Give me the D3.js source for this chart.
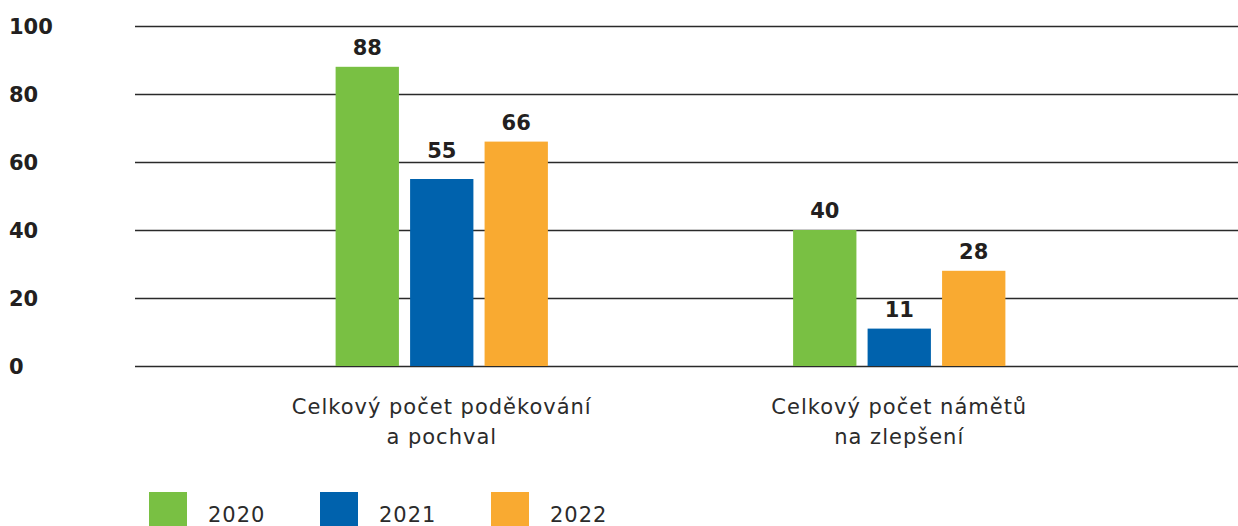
<!DOCTYPE html>
<html>
<head>
<meta charset="utf-8">
<script src="https://cdn.jsdelivr.net/npm/d3@7"></script>
<style>
  body { margin: 0; background: #fff; }
  svg { display: block; }
</style>
</head>
<body>
<div id="chart"></div>
<script>
const WIDTH = 1238;
const HEIGHT = 526;

// data
const categories = [
  ["Celkový počet poděkování", "a pochval"],
  ["Celkový počet námětů", "na zlepšení"]
];
const years = ["2020", "2021", "2022"];
const values2020 = [88, 40];
const values2021 = [55, 11];
const values2022 = [66, 28];
const yTicks = [0, 20, 40, 60, 80, 100];
const colors = ["#79c043", "#0062ad", "#f9aa31"];

const series = [values2020, values2021, values2022];

let svg = d3.select("#chart").append("svg")
  .attr("width", WIDTH)
  .attr("height", HEIGHT);

let y = d3.scaleLinear().domain([0, 100]).range([366, 26]);

let x0 = d3.scaleBand()
  .domain(d3.range(categories.length))
  .range([213, 1128])
  .paddingInner(0.536)
  .paddingOuter(0.268);

let x1 = d3.scaleBand()
  .domain(years)
  .range([0, x0.bandwidth()])
  .paddingInner(0.15);

/* gridlines */
svg.append("g")
  .selectAll("line")
  .data(yTicks)
  .join("line")
  .attr("x1", 135)
  .attr("x2", WIDTH)
  .attr("y1", d => Math.round(y(d)) + 0.5)
  .attr("y2", d => Math.round(y(d)) + 0.5)
  .attr("stroke", "#2a2a2a")
  .attr("stroke-width", 1.3);

/* y tick labels */
svg.append("g")
  .selectAll("text")
  .data(yTicks)
  .join("text")
  .attr("x", 9)
  .attr("y", d => y(d) + 8)
  .attr("font-family", "DejaVu Sans")
  .attr("font-weight", "bold")
  .attr("font-size", 21)
  .attr("fill", "#231f20")
  .text(d => d);

/* bars */
let groups = svg.append("g")
  .selectAll("g")
  .data(categories.map((c, i) => i))
  .join("g")
  .attr("transform", i => "translate(" + x0(i) + ",0)");

groups.selectAll("rect")
  .data(i => years.map((yr, j) => ({ year: yr, j: j, value: series[j][i] })))
  .join("rect")
  .attr("x", d => x1(d.year))
  .attr("width", x1.bandwidth())
  .attr("y", d => y(d.value))
  .attr("height", d => y(0) - y(d.value))
  .attr("fill", d => colors[d.j]);

// value labels, pushed above a gridline if they would sit on one
function labelBaseline(v) {
  let base = y(v) - 12;
  yTicks.forEach(t => {
    let gy = y(t);
    if (gy > base - 16 && gy < base + 1) base = gy - 4;
  });
  return base;
}

groups.selectAll("text")
  .data(i => years.map((yr, j) => ({ year: yr, j: j, value: series[j][i] })))
  .join("text")
  .attr("x", d => x1(d.year) + x1.bandwidth() / 2)
  .attr("y", d => labelBaseline(d.value))
  .attr("text-anchor", "middle")
  .attr("font-family", "DejaVu Sans")
  .attr("font-weight", "bold")
  .attr("font-size", 21)
  .attr("fill", "#231f20")
  .text(d => d.value);

/* category labels */
svg.append("g")
  .selectAll("text")
  .data(categories)
  .join("text")
  .attr("x", (d, i) => x0(i) + x0.bandwidth() / 2)
  .attr("y", 414)
  .attr("text-anchor", "middle")
  .attr("font-family", "DejaVu Sans")
  .attr("font-size", 21)
  .attr("letter-spacing", 1)
  .attr("fill", "#2b2b2b")
  .selectAll("tspan")
  .data(d => d)
  .join("tspan")
  .attr("x", function() { return d3.select(this.parentNode).attr("x"); })
  .attr("dy", (d, i) => i == 0 ? 0 : 30)
  .text(d => d);

/* legend */
let legend = svg.append("g")
  .selectAll("g")
  .data(years)
  .join("g")
  .attr("transform", (d, i) => "translate(" + (149 + i * 171) + ",492)");

legend.append("rect")
  .attr("width", 38)
  .attr("height", 34)
  .attr("fill", (d, i) => colors[i]);

legend.append("text")
  .attr("x", 59)
  .attr("y", 30)
  .attr("font-family", "DejaVu Sans")
  .attr("font-size", 21)
  .attr("letter-spacing", 1)
  .attr("fill", "#2b2b2b")
  .text(d => d);
</script>
</body>
</html>
